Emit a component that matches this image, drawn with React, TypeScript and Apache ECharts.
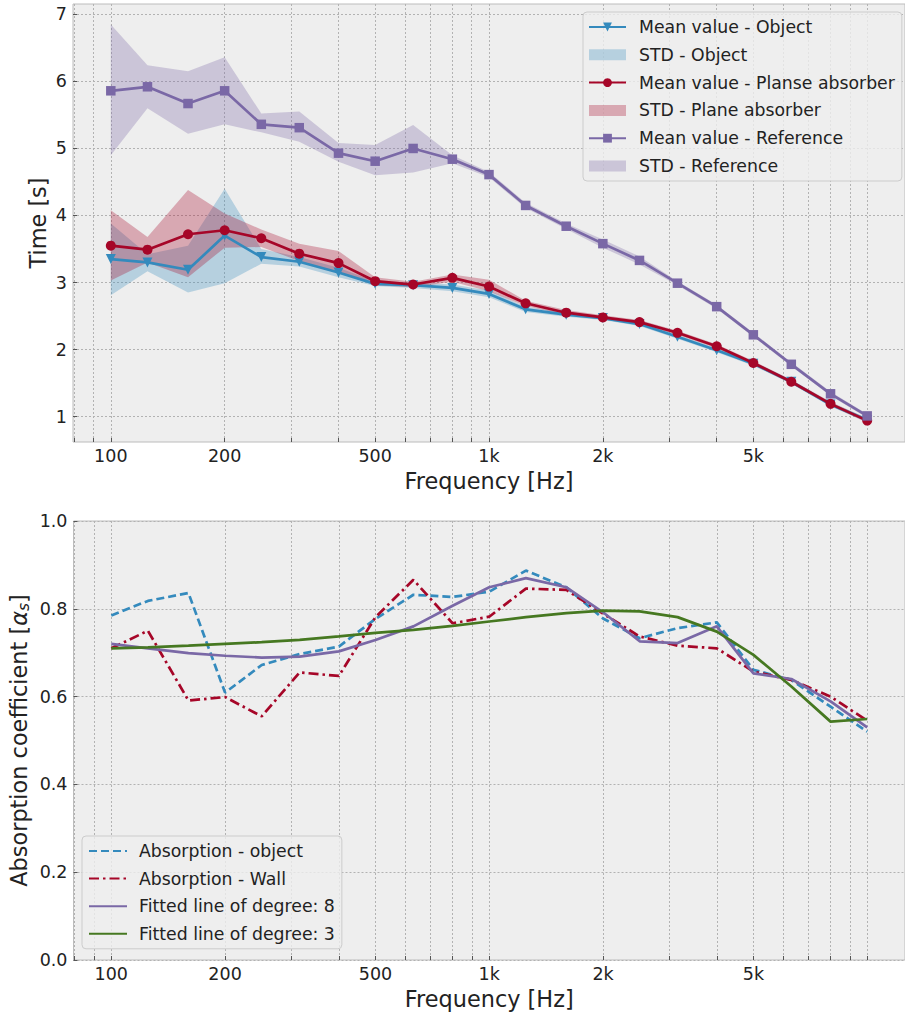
import React, { useEffect, useRef } from 'react';
import * as echarts from 'echarts';

// 1/3-octave band centre frequencies [Hz]
const freqs = [100, 125, 160, 200, 250, 315, 400, 500, 630, 800, 1000, 1250, 1600, 2000, 2500, 3150, 4000, 5000, 6300, 8000, 10000];

// Top panel: reverberation time [s]
const objMean = [3.35, 3.30, 3.19, 3.70, 3.38, 3.31, 3.15, 2.98, 2.96, 2.92, 2.83, 2.60, 2.52, 2.47, 2.38, 2.19, 1.99, 1.79, 1.52, 1.18, 0.95];
const objLo = [2.81, 3.17, 2.85, 2.99, 3.28, 3.24, 3.08, 2.95, 2.92, 2.87, 2.78, 2.56, 2.49, 2.44, 2.35, 2.16, 1.96, 1.76, 1.49, 1.15, 0.92];
const objHi = [3.88, 3.42, 3.55, 4.40, 3.50, 3.38, 3.22, 3.02, 3.00, 2.97, 2.88, 2.64, 2.55, 2.50, 2.41, 2.22, 2.02, 1.82, 1.55, 1.21, 0.98];

const plaMean = [3.55, 3.49, 3.72, 3.78, 3.66, 3.43, 3.29, 3.02, 2.97, 3.07, 2.94, 2.69, 2.55, 2.48, 2.41, 2.25, 2.05, 1.80, 1.52, 1.19, 0.94];
const plaLo = [3.03, 3.30, 3.08, 3.52, 3.53, 3.32, 3.15, 2.96, 2.93, 3.01, 2.87, 2.65, 2.52, 2.45, 2.38, 2.22, 2.02, 1.77, 1.49, 1.16, 0.91];
const plaHi = [4.08, 3.68, 4.38, 4.03, 3.79, 3.58, 3.47, 3.08, 3.01, 3.12, 3.04, 2.73, 2.59, 2.51, 2.44, 2.28, 2.08, 1.83, 1.55, 1.22, 0.97];

const refMean = [5.86, 5.92, 5.67, 5.86, 5.36, 5.31, 4.93, 4.81, 5.00, 4.84, 4.61, 4.15, 3.84, 3.58, 3.33, 2.99, 2.64, 2.22, 1.78, 1.34, 1.01];
const refLo = [4.90, 5.60, 5.22, 5.36, 5.24, 5.10, 4.80, 4.60, 4.64, 4.78, 4.57, 4.11, 3.80, 3.52, 3.27, 2.96, 2.61, 2.19, 1.75, 1.31, 0.98];
const refHi = [6.85, 6.24, 6.15, 6.36, 5.52, 5.55, 5.08, 5.05, 5.35, 4.90, 4.65, 4.19, 3.88, 3.64, 3.39, 3.02, 2.67, 2.25, 1.81, 1.37, 1.04];

// Bottom panel: absorption coefficient
const absObj = [0.785, 0.818, 0.836, 0.609, 0.672, 0.697, 0.714, 0.777, 0.832, 0.827, 0.839, 0.887, 0.849, 0.778, 0.733, 0.756, 0.769, 0.661, 0.638, 0.577, 0.520];
const absWall = [0.710, 0.750, 0.591, 0.599, 0.555, 0.655, 0.647, 0.781, 0.866, 0.767, 0.782, 0.846, 0.843, 0.789, 0.737, 0.716, 0.710, 0.657, 0.638, 0.600, 0.545];
const fit8 = [0.720, 0.710, 0.699, 0.693, 0.689, 0.691, 0.703, 0.729, 0.760, 0.807, 0.849, 0.870, 0.849, 0.792, 0.726, 0.722, 0.760, 0.653, 0.640, 0.589, 0.530];
const fit3 = [0.710, 0.712, 0.716, 0.720, 0.724, 0.729, 0.737, 0.745, 0.752, 0.761, 0.771, 0.781, 0.790, 0.796, 0.794, 0.781, 0.748, 0.695, 0.623, 0.543, 0.549];

// Axis ticks
const majorFreqTicks = [100, 200, 500, 1000, 2000, 5000];
const minorFreqTicks = [80, 90, 100, 200, 300, 400, 500, 600, 700, 800, 900, 1000, 2000, 3000, 4000, 5000, 6000, 7000, 8000, 9000, 10000];
const timeTicks = [1, 2, 3, 4, 5, 6, 7];

const FONT = 'DejaVu Sans';
const BLUE = '#348ABD';
const RED = '#A60628';
const PURPLE = '#7A68A6';
const GREEN = '#467821';
const TXT = '#222222';
const NAME_SIZE = 22.4;

const lg = (v: number) => Math.log10(v);
const pts = (vals: number[]) => freqs.map((f, i) => [lg(f), vals[i]]);
const fmtFreq = (v: number) => {
  const f = Math.round(Math.pow(10, v));
  return f >= 1000 ? f / 1000 + 'k' : String(f);
};

const splitLine = { show: true, lineStyle: { color: '#b2b2b2', type: [2, 2], width: 1 } };

function band(name: string, lo: number[], hi: number[], color: string) {
  return {
    type: 'custom', name, xAxisIndex: 0, yAxisIndex: 0,
    data: freqs.map((f, i) => [lg(f), lo[i], hi[i]]),
    encode: { x: 0, y: [1, 2] },
    itemStyle: { color },
    silent: true, z: 1,
    renderItem: (params: any, api: any) => {
      if (params.dataIndex !== 0) return null;
      const upper = freqs.map((f, i) => api.coord([lg(f), hi[i]]));
      const lower = freqs.map((f, i) => api.coord([lg(f), lo[i]])).reverse();
      return { type: 'polygon', shape: { points: upper.concat(lower) }, style: { fill: color } };
    },
  };
}

export default function App() {
  const ref = useRef<HTMLDivElement>(null);
  useEffect(() => {
    document.body.style.margin = '0';
    const chart = echarts.init(ref.current!, null, { renderer: 'svg' });
    const xAxisBase = (gridIndex: number) => ({
      type: 'value', gridIndex, min: 1.9, max: 4.1,
      name: 'Frequency [Hz]', nameLocation: 'middle', nameGap: 28, nameMoveOverlap: false,
      nameTextStyle: { fontFamily: FONT, fontSize: NAME_SIZE, color: TXT },
      axisLine: { show: false },
      axisTick: { show: true, inside: true, length: 4, customValues: minorFreqTicks.map(lg), lineStyle: { color: '#555' } },
      axisLabel: { customValues: majorFreqTicks.map(lg), formatter: fmtFreq, fontFamily: FONT, fontSize: 17.5, lineHeight: 18, color: TXT, margin: 5 },
      splitLine,
    });
    const option: any = {
      animation: false,
      backgroundColor: '#ffffff',
      grid: [
        { left: 73, top: 4, width: 837, height: 438, show: true, backgroundColor: '#eeeeee', borderColor: '#bcbcbc', borderWidth: 1 },
        { left: 73, top: 521, width: 837, height: 439, show: true, backgroundColor: '#eeeeee', borderColor: '#bcbcbc', borderWidth: 1 },
      ],
      xAxis: [xAxisBase(0), xAxisBase(1)],
      yAxis: [
        {
          type: 'value', gridIndex: 0, min: 0.621, max: 7.155,
          name: 'Time [s]', nameLocation: 'middle', nameGap: 24, nameMoveOverlap: false,
          nameTextStyle: { fontFamily: FONT, fontSize: NAME_SIZE, color: TXT },
          axisLine: { show: false },
          axisTick: { show: true, inside: true, length: 4, customValues: timeTicks, lineStyle: { color: '#555' } },
          axisLabel: { customValues: timeTicks, fontFamily: FONT, fontSize: 17.5, color: TXT, margin: 6 },
          splitLine,
        },
        {
          type: 'value', gridIndex: 1, min: 0, max: 1, interval: 0.2,
          name: 'Absorption coefficient [{a|α}{s|s}]', nameLocation: 'middle', nameGap: 42, nameMoveOverlap: false,
          nameTextStyle: {
            fontFamily: FONT, fontSize: NAME_SIZE, color: TXT,
            rich: {
              a: { fontFamily: FONT, fontSize: NAME_SIZE, fontStyle: 'italic', color: TXT },
              s: { fontFamily: FONT, fontSize: 15.5, fontStyle: 'italic', color: TXT, verticalAlign: 'bottom', padding: [9, 0, 0, 0] },
            },
          },
          axisLine: { show: false },
          axisTick: { show: true, inside: true, length: 4, lineStyle: { color: '#555' } },
          axisLabel: { formatter: (v: number) => v.toFixed(1), fontFamily: FONT, fontSize: 17.5, color: TXT, margin: 6 },
          splitLine,
        },
      ],
      legend: [
        {
          orient: 'vertical', left: 583, top: 12, itemWidth: 37, itemHeight: 11, itemGap: 7.8,
          padding: [5, 7, 5, 5], backgroundColor: 'rgba(238,238,238,0.8)', borderColor: '#cccccc', borderWidth: 1, borderRadius: 4,
          selectedMode: false,
          textStyle: { fontFamily: FONT, fontSize: 17.3, color: TXT, lineHeight: 20, padding: [0, 0, 0, 8] },
          data: [
            { name: 'Mean value - Object' },
            { name: 'STD - Object', icon: 'rect', itemStyle: { color: 'rgba(52,138,189,0.3)' } },
            { name: 'Mean value - Planse absorber' },
            { name: 'STD - Plane absorber', icon: 'rect', itemStyle: { color: 'rgba(166,6,40,0.3)' } },
            { name: 'Mean value - Reference' },
            { name: 'STD - Reference', icon: 'rect', itemStyle: { color: 'rgba(122,104,166,0.3)' } },
          ],
        },
        {
          orient: 'vertical', left: 82, top: 836, itemWidth: 38, itemHeight: 11, itemGap: 7.6,
          padding: [5, 7, 5, 6], backgroundColor: 'rgba(238,238,238,0.8)', borderColor: '#cccccc', borderWidth: 1, borderRadius: 4,
          selectedMode: false,
          textStyle: { fontFamily: FONT, fontSize: 17.3, color: TXT, lineHeight: 20, padding: [0, 0, 0, 7] },
          data: [
            { name: 'Absorption - object', itemStyle: { opacity: 0 } },
            { name: 'Absorption - Wall', itemStyle: { opacity: 0 } },
            { name: 'Fitted line of degree: 8', itemStyle: { opacity: 0 } },
            { name: 'Fitted line of degree: 3', itemStyle: { opacity: 0 } },
          ],
        },
      ],
      series: [
        band('STD - Object', objLo, objHi, 'rgba(52,138,189,0.3)'),
        band('STD - Plane absorber', plaLo, plaHi, 'rgba(166,6,40,0.3)'),
        band('STD - Reference', refLo, refHi, 'rgba(122,104,166,0.3)'),
        {
          type: 'line', name: 'Mean value - Object', xAxisIndex: 0, yAxisIndex: 0, data: pts(objMean),
          symbol: 'triangle', symbolRotate: 180, symbolSize: 10,
          lineStyle: { color: BLUE, width: 2.7 }, itemStyle: { color: BLUE }, z: 3,
        },
        {
          type: 'line', name: 'Mean value - Planse absorber', xAxisIndex: 0, yAxisIndex: 0, data: pts(plaMean),
          symbol: 'circle', symbolSize: 10,
          lineStyle: { color: RED, width: 2.7 }, itemStyle: { color: RED }, z: 4,
        },
        {
          type: 'line', name: 'Mean value - Reference', xAxisIndex: 0, yAxisIndex: 0, data: pts(refMean),
          symbol: 'rect', symbolSize: 9.5,
          lineStyle: { color: PURPLE, width: 2.7 }, itemStyle: { color: PURPLE }, z: 5,
        },
        {
          type: 'line', name: 'Absorption - object', xAxisIndex: 1, yAxisIndex: 1, data: pts(absObj),
          symbol: 'none', lineStyle: { color: BLUE, width: 2.7, type: [8, 4] }, itemStyle: { color: BLUE }, z: 3,
        },
        {
          type: 'line', name: 'Absorption - Wall', xAxisIndex: 1, yAxisIndex: 1, data: pts(absWall),
          symbol: 'none', lineStyle: { color: RED, width: 2.7, type: [10, 4, 2.5, 4] }, itemStyle: { color: RED }, z: 3,
        },
        {
          type: 'line', name: 'Fitted line of degree: 8', xAxisIndex: 1, yAxisIndex: 1, data: pts(fit8),
          symbol: 'none', lineStyle: { color: PURPLE, width: 2.7 }, itemStyle: { color: PURPLE }, z: 3,
        },
        {
          type: 'line', name: 'Fitted line of degree: 3', xAxisIndex: 1, yAxisIndex: 1, data: pts(fit3),
          symbol: 'none', lineStyle: { color: GREEN, width: 2.7 }, itemStyle: { color: GREEN }, z: 3,
        },
      ],
    };
    chart.setOption(option);
    return () => chart.dispose();
  }, []);
  return <div ref={ref} style={{ width: 905, height: 1014 }} />;
}
